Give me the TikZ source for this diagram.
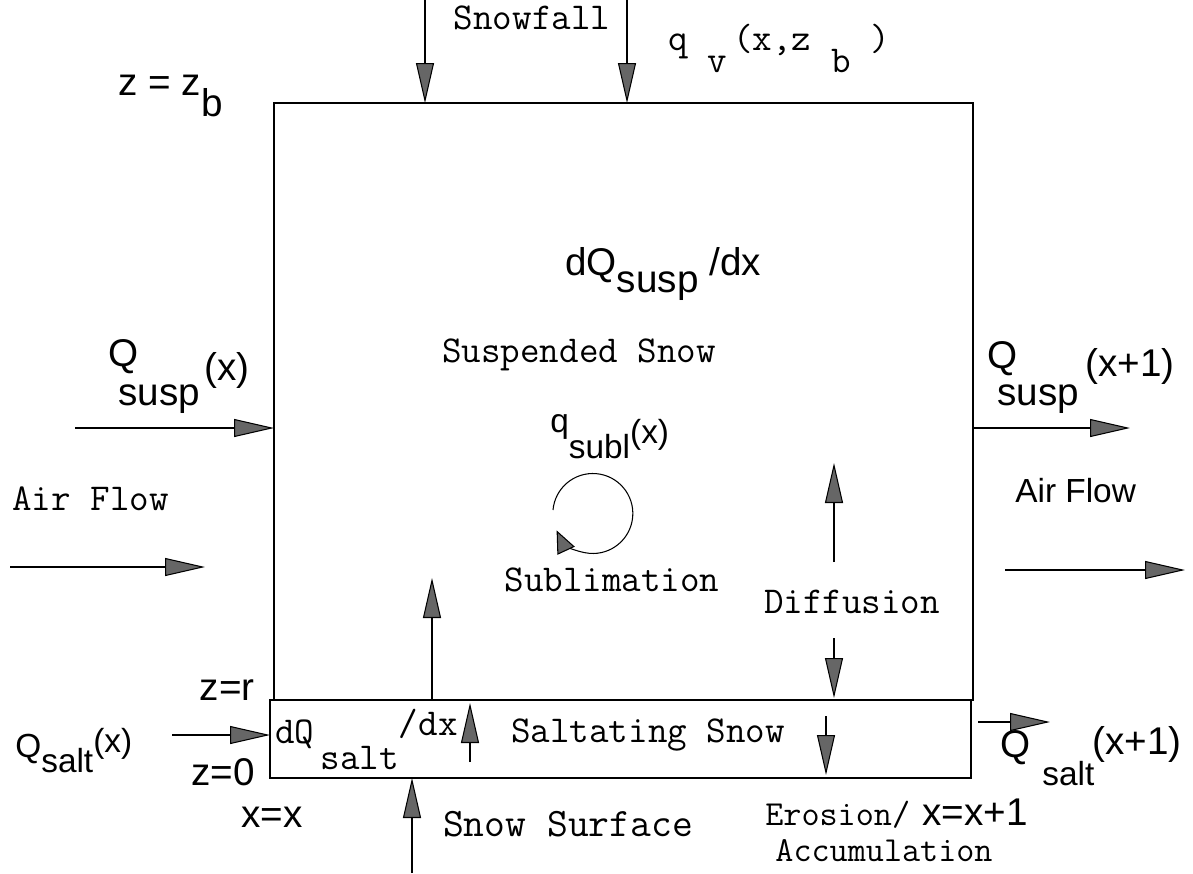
\documentclass[tikz,border=0pt]{standalone}
\usepackage{fontspec}
\setmainfont{Liberation Sans}
\usetikzlibrary{arrows.meta}
\newcommand{\dn}[2][0.6em]{\raisebox{-#1}{#2}}
\tikzset{
  flow/.style={line width=0.6pt, -{Triangle[length=0.8cm,width=0.36cm,fill=black!60]}},
  small/.style={line width=0.6pt, -{Triangle[length=0.45cm,width=0.38cm,fill=black!60]}},
  mtext/.style={font=\ttfamily\fontsize{21.6}{24}\selectfont, inner sep=0pt},
  mtlarge/.style={font=\ttfamily\fontsize{23}{26}\selectfont, inner sep=0pt},
  mtsmall/.style={font=\ttfamily\fontsize{20}{23}\selectfont, inner sep=0pt},
  stext/.style={font=\fontsize{19}{22}\selectfont, inner sep=0pt},
  ltext/.style={font=\fontsize{22}{26}\selectfont, inner sep=0pt},
  layer/.style={line width=0.7pt}
}
\begin{document}
\begin{tikzpicture}[x=0.02cm, y=-0.02cm]
  \useasboundingbox (0,0) rectangle (1193,873);
  % box corners
  \coordinate (NW) at (274,103);
  \coordinate (SE) at (973,700);
  \coordinate (sNW) at (270,700);
  \coordinate (sSE) at (971,778);
  \draw[layer] (NW) rectangle (SE);
  \draw[layer] (sNW) rectangle (sSE);

  % labels, suspended layer
  \node[mtext] (snowfall) at (532,18) {Snowfall};
  \node[mtext, anchor=base west] (qv) at (668,50) {q \dn{v}\,(x,z \dn{b} )};
  \node[ltext, anchor=base west] (zb) at (118,95) {z = z\dn[0.55em]{b}};
  \node[ltext, anchor=base west] (dqsusp) at (565,275) {dQ\dn[0.45em]{susp}\ /dx};
  \node[mtext] (susp) at (579,355) {Suspended Snow};
  \node[ltext, anchor=base west] (qin) at (108,366) {Q};
  \node[ltext, anchor=base west] (qinsub) at (118,405) {susp};
  \node[ltext, anchor=base west] (qinx) at (204,380) {(x)};
  \node[ltext, anchor=base west] (qout) at (987,368) {Q};
  \node[ltext, anchor=base west] (qoutsub) at (997,405) {susp};
  \node[ltext, anchor=base west] (qoutx) at (1085,376) {(x+1)};
  \node[stext, anchor=base west] (qsubl) at (550,432) {q\dn[0.8em]{subl}\raisebox{-0.35em}{(x)}};
  \node[mtext, anchor=base west] (airl) at (12,510) {Air Flow};
  \node[stext, anchor=base west] (airr) at (1015,502) {Air Flow};
  \node[mtext] (sublim) at (612,580) {Sublimation};
  \node[mtext] (diff) at (852,602) {Diffusion};

  % labels, saltation layer
  \node[ltext, anchor=base east] (zr) at (255,700) {z=r};
  \node[ltext, anchor=base east] (zz) at (255,785) {z=0};
  \node[ltext, anchor=base east] (xx) at (303,827) {x=x};
  \node[stext, anchor=base west] (qsaltin) at (15,757) {Q\dn[0.45em]{salt}\raisebox{0.15em}{(x)}};
  \node[mtext, anchor=base west] (dqsalt) at (275,743) {dQ\,\dn[0.7em]{salt}\raisebox{0.2em}{/dx}};
  \node[mtext] (salt) at (648,735) {Saltating Snow};
  \node[ltext, anchor=base west] (qsaltout) at (1000,757) {Q};
  \node[stext, anchor=base west] (qsaltsub) at (1042,785) {salt};
  \node[ltext, anchor=base west] (qsaltx) at (1092,754) {(x+1)};
  \node[mtlarge] (surface) at (568,824) {Snow Surface};
  \node[mtsmall, anchor=base west] (eros) at (765,825) {Erosion/};
  \node[ltext, anchor=base west] (xx1) at (922,825) {x=x+1};
  \node[mtsmall] (accum) at (884,851) {Accumulation};

  % arrow ends
  \coordinate (sfa0) at (425,0);   \coordinate (sfa1) at (425,103);
  \coordinate (sfb0) at (627,0);   \coordinate (sfb1) at (627,103);
  \coordinate (qin0) at (75,428);  \coordinate (qin1) at (274,428);
  \coordinate (qout0) at (973,428); \coordinate (qout1) at (1130,428);
  \coordinate (airl0) at (10,567); \coordinate (airl1) at (205,567);
  \coordinate (airr0) at (1005,570); \coordinate (airr1) at (1185,570);
  \coordinate (up0) at (432,700);  \coordinate (up1) at (432,578);
  \coordinate (dfu0) at (834,562); \coordinate (dfu1) at (834,463);
  \coordinate (dfd0) at (834,638); \coordinate (dfd1) at (834,698);
  \coordinate (saltin0) at (172,735); \coordinate (saltin1) at (270,735);
  \coordinate (sup0) at (470,762); \coordinate (sup1) at (470,703);
  \coordinate (sdn0) at (826,716); \coordinate (sdn1) at (826,775);
  \coordinate (saltout0) at (978,722); \coordinate (saltout1) at (1050,722);
  \coordinate (surf0) at (412,873); \coordinate (surf1) at (412,778);
  \coordinate (sublstart) at (553,510);

  \draw[flow] (sfa0) -- (sfa1);
  \draw[flow] (sfb0) -- (sfb1);
  \draw[flow] (qin0) -- (qin1);
  \draw[flow] (qout0) -- (qout1);
  \draw[flow] (airl0) -- (airl1);
  \draw[flow] (airr0) -- (airr1);
  \draw[flow] (up0) -- (up1);
  \draw[flow] (dfu0) -- (dfu1);
  \draw[flow] (dfd0) -- (dfd1);
  \draw[flow] (saltin0) -- (saltin1);
  \draw[flow] (sup0) -- (sup1);
  \draw[flow] (sdn0) -- (sdn1);
  \draw[flow] (saltout0) -- (saltout1);
  \draw[flow] (surf0) -- (surf1);
  \draw[small] (sublstart) arc[start angle=175, end angle=-155, radius=0.8cm];
\end{tikzpicture}
\end{document}
